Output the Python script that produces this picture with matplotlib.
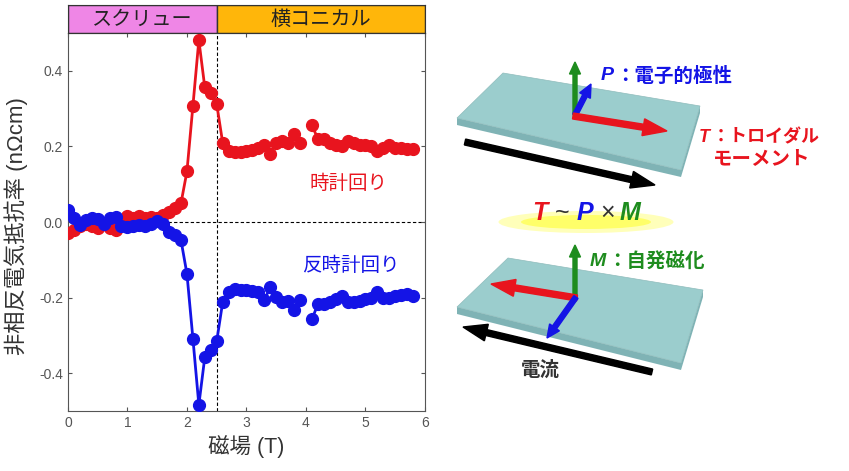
import numpy as np
import matplotlib
matplotlib.use("Agg")
import matplotlib.pyplot as plt
from matplotlib.patches import Polygon, FancyArrow, Ellipse, Rectangle

plt.rcParams['font.family'] = ['Liberation Sans', 'Noto Sans CJK JP', 'DejaVu Sans']

# 磁場 (T)
field = [0.0, 0.1, 0.2, 0.3, 0.4, 0.5, 0.6, 0.7, 0.8, 0.9,
         1.0, 1.1, 1.2, 1.3, 1.4, 1.5, 1.6, 1.7, 1.8, 1.9,
         2.0, 2.1, 2.2, 2.3, 2.4, 2.5, 2.6, 2.7, 2.8, 2.9,
         3.0, 3.1, 3.2, 3.3, 3.4, 3.5, 3.6, 3.7, 3.8, 3.9,
         4.0, 4.1, 4.2, 4.3, 4.4, 4.5, 4.6, 4.7, 4.8, 4.9,
         5.0, 5.1, 5.2, 5.3, 5.4, 5.5, 5.6, 5.7, 5.8]

# 時計回り
cw = [-0.030, -0.020, -0.010, -0.005, -0.010, -0.015, -0.005, -0.015, -0.020, 0.005,
      0.016, 0.012, 0.015, 0.012, 0.013, 0.010, 0.019, 0.027, 0.037, 0.050,
      0.134, 0.307, 0.481, 0.356, 0.340, 0.312, 0.210, 0.187, 0.185, 0.186,
      0.188, 0.190, 0.195, 0.205, 0.179, 0.210, 0.214, 0.210, 0.232, 0.210,
      np.nan, 0.256, 0.220, 0.220, 0.210, 0.205, 0.200, 0.214, 0.210, 0.205,
      0.205, 0.200, 0.188, 0.196, 0.203, 0.196, 0.196, 0.192, 0.193]

# 反時計回り
ccw = [0.033, 0.012, -0.008, 0.005, 0.010, 0.008, -0.005, 0.012, 0.013, -0.010,
       -0.012, -0.010, -0.008, -0.010, -0.005, 0.003, -0.005, -0.025, -0.035, -0.048,
       -0.137, -0.308, -0.483, -0.357, -0.337, -0.315, -0.212, -0.186, -0.177, -0.180,
       -0.180, -0.183, -0.185, -0.206, -0.172, -0.199, -0.212, -0.208, -0.233, -0.206,
       np.nan, -0.257, -0.217, -0.217, -0.210, -0.204, -0.195, -0.212, -0.212, -0.208,
       -0.204, -0.200, -0.186, -0.200, -0.200, -0.195, -0.192, -0.190, -0.195]

phases = ["スクリュー", "横コニカル"]
phase_edges = [0, 2.5, 6]
phase_colors = ["#ef86e6", "#ffb60a"]

red = "#e8141e"
blue = "#1414e6"
green = "#1e8c1e"
gray = "#555555"
latin = ['Liberation Sans']
cjk = ['Noto Sans CJK JP']

fig = plt.figure(figsize=(8.49, 4.71), dpi=100)

ax = fig.add_axes([0.080, 0.127, 0.4206, 0.803])
ax.plot(field, cw, "-o", color=red, ms=8.5, lw=2, zorder=3)
ax.plot(field, ccw, "-o", color=blue, ms=8.5, lw=2, zorder=4)
ax.axhline(0, color="k", ls="--", lw=0.8, dashes=(3, 2), zorder=1)
ax.axvline(2.5, color="k", ls="--", lw=0.8, dashes=(3, 2), zorder=1)
ax.set_xlim(0, 6)
ax.set_ylim(-0.5, 0.5)
ax.set_xticks([0, 1, 2, 3, 4, 5, 6])
ax.set_yticks([-0.4, -0.2, 0.0, 0.2, 0.4])
ax.set_yticklabels(["-0.4", "-0.2", "0.0", "0.2", "0.4"])
ax.tick_params(direction="in", top=True, right=True, length=3, color=gray,
               labelcolor=gray, labelsize=10)
for s in ax.spines.values():
    s.set_color(gray)
ax.set_xlabel("磁場 (T)", fontsize=15.5, color="#333333")
ax.set_ylabel("非相反電気抵抗率 (nΩcm)", fontsize=16, color="#333333")
ax.xaxis.set_label_coords(0.5, -0.062)
ax.yaxis.set_label_coords(-0.112, 0.49)
ax.text(4.72, 0.1, "時計回り", color=red, fontsize=14, ha="center", va="center")
ax.text(4.75, -0.115, "反時計回り", color=blue, fontsize=14, ha="center", va="center")

# 相のラベル帯
hax = fig.add_axes([0.080, 0.930, 0.4206, 0.059])
hax.set_xlim(0, 6)
hax.set_ylim(0, 1)
for i in range(len(phases)):
    hax.add_patch(Rectangle((phase_edges[i], 0), phase_edges[i + 1] - phase_edges[i], 1,
                            facecolor=phase_colors[i], edgecolor="#333333", lw=1))
    hax.text((phase_edges[i] + phase_edges[i + 1]) / 2, 0.5, phases[i],
             ha="center", va="center", fontsize=14.5, color="#222222")
hax.set_xticks([])
hax.set_yticks([])
for s in hax.spines.values():
    s.set_color("#333333")

# 右側の模式図 (ピクセル座標)
dax = fig.add_axes([0, 0, 1, 1])
dax.set_xlim(0, 849)
dax.set_ylim(471, 0)
dax.axis("off")
dax.patch.set_alpha(0)

slab_top = "#9bcdcd"
slab_side = "#7fb3b5"


def slab(a, b, c, d, t=7):
    dax.add_patch(Polygon([a, d, (d[0], d[1] + t), (a[0], a[1] + t)], closed=True,
                          facecolor=slab_side, edgecolor="none"))
    dax.add_patch(Polygon([d, c, (c[0], c[1] + t), (d[0], d[1] + t)], closed=True,
                          facecolor=slab_side, edgecolor="none"))
    dax.add_patch(Polygon([a, b, c, d], closed=True, facecolor=slab_top,
                          edgecolor="#8fbcbc", lw=0.5))


def arrow(x0, y0, x1, y1, col, w=6, hw=15, hl=16, z=5):
    dax.add_patch(FancyArrow(x0, y0, x1 - x0, y1 - y0, width=w, head_width=hw,
                             head_length=hl, length_includes_head=True,
                             color=col, zorder=z))


def label(x, y, sym, rest, col, size=14, gap=0.72):
    dax.text(x, y, sym, color=col, fontsize=size, fontweight="bold",
             style="italic", family=latin, ha="left", va="center")
    dax.text(x + gap * size * 1.39, y, rest, color=col, fontsize=size,
             fontweight="bold", family=cjk, ha="left", va="center")


# 上のスラブ
arrow(465, 142, 655, 185, "k", w=6, hw=17, hl=24, z=1)
slab((457, 118), (503, 73), (700, 106), (681, 170))
arrow(575, 115, 575, 62, green, w=4, hw=11, hl=12)
arrow(575, 115, 591, 84, blue, w=5, hw=12, hl=13)
arrow(573, 116, 667, 131, red, w=6, hw=17, hl=24)
label(601, 76, "P", "：電子的極性", blue)
label(699, 137, "T", "：トロイダル", red, size=13)
dax.text(713, 159, "モーメント", color=red, fontsize=14, fontweight="bold",
         family=cjk, ha="left", va="center")

# T ~ P × M
dax.add_patch(Ellipse((586, 222), 175, 22, facecolor="#ffff66", edgecolor="none",
                      alpha=0.45))
dax.add_patch(Ellipse((586, 222), 130, 14, facecolor="#ffff33", edgecolor="none",
                      alpha=0.6))
eq_parts = [("T", red, 540), ("~", "#333333", 562), ("P", blue, 585),
            ("×", "#333333", 608), ("M", green, 630)]
for s, c, x in eq_parts:
    if s in "TPM":
        dax.text(x, 213, s, color=c, fontsize=18, fontweight="bold", style="italic",
                 family=latin, ha="center", va="center")
    else:
        dax.text(x, 213, s, color=c, fontsize=18, family=latin,
                 ha="center", va="center")

# 下のスラブ
slab((457, 307), (508, 258), (703, 290), (681, 363))
arrow(652, 372, 463, 327, "k", w=6, hw=17, hl=24, z=6)
arrow(575, 298, 575, 245, green, w=4, hw=11, hl=12)
arrow(577, 298, 491, 284, red, w=6, hw=17, hl=24)
arrow(576, 297, 547, 338, blue, w=5, hw=12, hl=13)
label(590, 262, "M", "：自発磁化", green, gap=0.88)
dax.text(521, 370, "電流", color="#333333", fontsize=14, fontweight="bold",
         family=cjk, ha="left", va="center")

fig.savefig("out.png", dpi=100)
